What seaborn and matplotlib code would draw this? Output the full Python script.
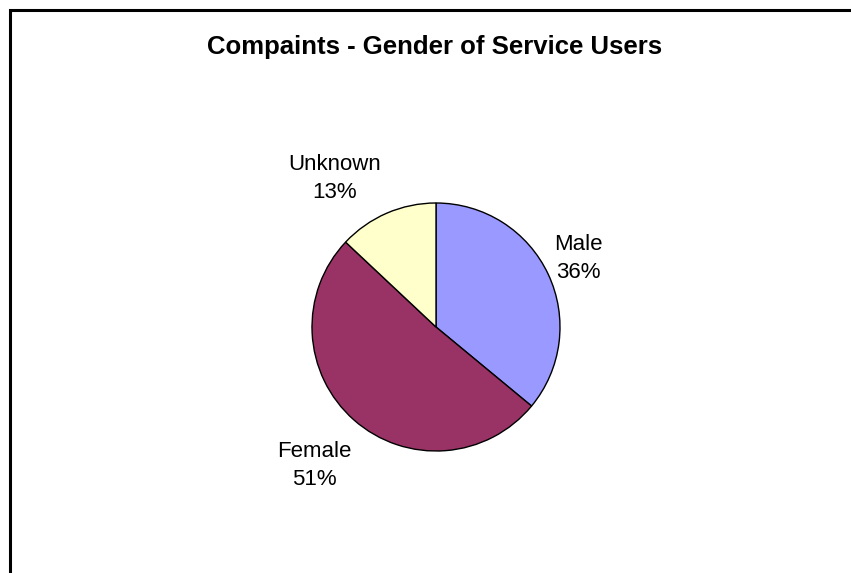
import matplotlib
matplotlib.use("Agg")
import matplotlib.pyplot as plt
import seaborn as sns

# chart data
categories = ["Male", "Female", "Unknown"]
percents = [36, 51, 13]
colors = ["#9999FF", "#993366", "#FFFFCC"]

sns.set_style("white")
plt.rcParams['font.family'] = ['Liberation Sans', 'DejaVu Sans']
plt.rcParams['text.color'] = 'black'

W, H = 851, 573
fig = plt.figure(figsize=(W / 100, H / 100), dpi=100)

# outer chart frame (only top and left edges fall inside the image)
frame = plt.Rectangle((10 / W, -0.1), 1.0, (H - 10) / H + 0.1, transform=fig.transFigure,
                      fill=False, edgecolor="black", linewidth=2.2)
fig.add_artist(frame)

# pie centre (436, 327) px, radius 124 px
cx, cy, r = 436, 327, 124
ax = fig.add_axes([(cx - r) / W, (H - cy - r) / H, 2 * r / W, 2 * r / H])
wedges, _ = ax.pie(percents, colors=colors, startangle=90, counterclock=False,
                   wedgeprops=dict(edgecolor="black", linewidth=1.0))
ax.set_xlim(-1, 1)
ax.set_ylim(-1, 1)
ax.axis("off")

# label placement in pie-radius units
label_pos = [(1.145, 0.55), (-0.98, -1.12), (-0.82, 1.20)]
for name, pct, (lx, ly) in zip(categories, percents, label_pos):
    ax.text(lx, ly, f"{name}\n{pct}%", ha="center", va="center",
            fontsize=16, linespacing=1.45, clip_on=False)

fig.text(435 / W, 1 - 47 / H, "Compaints - Gender of Service Users",
         ha="center", va="center", fontsize=18.5, fontweight="bold")

fig.savefig("out.png", dpi=100)
